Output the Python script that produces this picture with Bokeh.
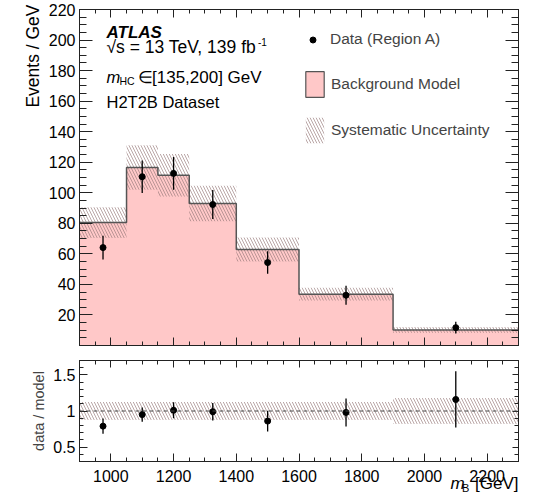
import numpy as np
from bokeh.plotting import figure
from bokeh.layouts import column
from bokeh.models import (FixedTicker, LinearAxis, Range1d, Label, Legend, LegendItem,
                          Span, CustomJSTickFormatter, Title)
from bokeh.core.properties import value
from bokeh.embed import file_html
from bokeh.resources import INLINE

FONT = "Liberation Sans"
PINK = "#ffc8c8"
OUTLINE = "#555555"
HATCH = "#957878"
FRAME = "#222222"

# ---------------- data ----------------
bin_edges = [900, 1050, 1150, 1250, 1400, 1600, 1900, 2300]
model_bkg = [80.5, 116.5, 111.5, 93.0, 62.8, 33.6, 10.2]
syst_rel = [0.125, 0.125, 0.125, 0.125, 0.125, 0.125, 0.18]
data_mass = [975, 1100, 1200, 1325, 1500, 1750, 2100]
data_events = [64.1, 110.5, 112.7, 92.3, 54.3, 32.9, 11.7]
data_err = [7.8, 10.6, 10.7, 9.5, 7.4, 6.2, 3.8]
ratio_vals = [0.79, 0.95, 1.01, 0.99, 0.86, 0.98, 1.16]
ratio_err = [0.105, 0.10, 0.11, 0.12, 0.145, 0.195, 0.39]
y_ticks_main = [20, 40, 60, 80, 100, 120, 140, 160, 180, 200, 220]
x_ticks = [1000, 1200, 1400, 1600, 1800, 2000, 2200]
ratio_ticks = [0.5, 1.0, 1.5]

edges = np.array(bin_edges, dtype=float)
left, right = edges[:-1], edges[1:]
model = np.array(model_bkg)
srel = np.array(syst_rel)
dm = np.array(data_events)
de = np.array(data_err)
rv = np.array(ratio_vals)
re_ = np.array(ratio_err)

x_minor = [float(v) for v in np.arange(900, 2301, 50)]
y_minor = [float(v) for v in np.arange(0, 221, 5)]
r_minor = [round(float(v), 2) for v in np.arange(0.3, 1.701, 0.1)]


def make_axis(ticks, minor, tin, tmin, labels=True, size="16px", standoff=4, fmt=None):
    ax = LinearAxis(ticker=FixedTicker(ticks=ticks, minor_ticks=minor),
                    major_tick_in=int(tin), major_tick_out=0,
                    minor_tick_in=int(tmin), minor_tick_out=0,
                    axis_line_color=FRAME, major_tick_line_color=FRAME,
                    minor_tick_line_color=FRAME, major_tick_line_width=1,
                    minor_tick_line_width=1)
    if labels:
        ax.major_label_text_font = FONT
        ax.major_label_text_font_size = size
        ax.major_label_text_color = "black"
        ax.major_label_standoff = standoff
        if fmt is not None:
            ax.formatter = fmt
    else:
        ax.formatter = CustomJSTickFormatter(code="return ''")
        ax.major_label_text_font_size = "0px"
        ax.major_label_standoff = 0
    return ax


def lab(p, x, y, text, size="16.5px", style="normal", align="left", angle=0):
    p.add_layout(Label(x=x, y=y, x_units="screen", y_units="screen", text=text,
                       text_font=FONT, text_font_size=size, text_font_style=style,
                       text_align=align, text_baseline="alphabetic", angle=angle,
                       text_color="black"))


# ---------------- main panel ----------------
p1 = figure(width=533, height=350, x_range=Range1d(900, 2300), y_range=Range1d(0, 220),
            output_backend="svg", toolbar_location=None,
            x_axis_type=None, y_axis_type=None,
            min_border_left=79, min_border_right=15, min_border_top=9, min_border_bottom=5)
p1.outline_line_color = FRAME
p1.outline_line_width = 1
p1.background_fill_color = "white"
p1.border_fill_color = "white"

p1.add_layout(make_axis(y_ticks_main, y_minor, 13, 7), "left")
p1.add_layout(Title(text="Events / GeV", align="right", text_font=FONT,
                    text_font_size="17.5px", text_font_style="normal", text_color="black",
                    offset=-5, standoff=6), "left")
p1.add_layout(make_axis(y_ticks_main, y_minor, 13, 7, labels=False), "right")
p1.add_layout(make_axis(x_ticks, x_minor, 8, 4, labels=False), "below")
p1.add_layout(make_axis(x_ticks, x_minor, 8, 4, labels=False), "above")

# background model: filled step area + outline
xs, ys = [], []
for i in range(len(model)):
    xs += [left[i], right[i]]
    ys += [model[i], model[i]]
p1.patch(xs + [right[-1], left[0]], ys + [0, 0], fill_color=PINK, line_alpha=0)
band = p1.quad(left=left, right=right, bottom=model * (1 - srel), top=model * (1 + srel),
               fill_alpha=0, line_alpha=0, hatch_pattern="\\", hatch_color=HATCH,
               hatch_alpha=0.65, hatch_scale=6, hatch_weight=1)
p1.line(xs, ys, line_color=OUTLINE, line_width=1.5)
p1.segment(x0=data_mass, y0=dm - de, x1=data_mass, y1=dm + de, line_color="black", line_width=1.3)
pts = p1.scatter(data_mass, dm, size=6, color="black")
# legend-only renderer for the background model box (not drawn on the plot)
bkg_leg = p1.quad(left=left, right=right, bottom=0, top=model, fill_color=PINK,
                  line_color=OUTLINE, line_width=1.2, visible=False)

leg1 = Legend(items=[LegendItem(label="Data (Region A)", renderers=[pts])],
              location=(226, 297), glyph_width=15, glyph_height=15, label_height=15,
              label_standoff=10, label_text_font=FONT, label_text_font_size="15.5px",
              padding=0, margin=0, spacing=0, border_line_alpha=0, background_fill_alpha=0)
leg2 = Legend(items=[LegendItem(label="Background Model", renderers=[bkg_leg]),
                     LegendItem(label="Systematic Uncertainty", renderers=[band])],
              location=(224, 199), glyph_width=23, glyph_height=32, label_height=32,
              label_standoff=5, label_text_font=FONT, label_text_font_size="15.5px",
              padding=0, margin=0, spacing=14, border_line_alpha=0, background_fill_alpha=0)
p1.add_layout(leg1)
p1.add_layout(leg2)

lab(p1, 27, 313, "ATLAS", size="17px", style="bold italic")
lab(p1, 27, 299, "\u221as = 13 TeV, 139 fb", size="17.5px")
lab(p1, 178.5, 303.5, "-1", size="10px")
lab(p1, 27, 268.5, "m", size="16.5px", style="italic")
lab(p1, 40, 265, "HC", size="10.5px")
lab(p1, 58.5, 268.5, "\u2208", size="16.5px")
lab(p1, 72.5, 268.5, "[135,200] GeV", size="17px")
lab(p1, 27, 243.5, "H2T2B Dataset", size="16.5px")

# ---------------- ratio panel ----------------
p2 = figure(width=533, height=112, x_range=p1.x_range, y_range=Range1d(0.3, 1.7),
            output_backend="svg", toolbar_location=None,
            x_axis_type=None, y_axis_type=None,
            min_border_left=79, min_border_right=15, min_border_top=10, min_border_bottom=1)
p2.outline_line_color = FRAME
p2.outline_line_width = 1
p2.background_fill_color = "white"
p2.border_fill_color = "white"

yax2 = make_axis(ratio_ticks, r_minor, 8, 4, standoff=4,
                 fmt=CustomJSTickFormatter(code="return String(tick)"))
yax2.axis_label = "data / model"
yax2.axis_label_text_font = FONT
yax2.axis_label_text_font_size = "14.5px"
yax2.axis_label_text_font_style = "normal"
yax2.axis_label_standoff = 3
p2.add_layout(yax2, "left")
p2.add_layout(make_axis(ratio_ticks, r_minor, 6, 4, labels=False), "right")
p2.add_layout(make_axis(x_ticks, x_minor, 8, 4, labels=False), "below")
p2.add_layout(make_axis(x_ticks, x_minor, 7, 4, labels=False), "above")

p2.quad(left=left, right=right, bottom=1 - srel, top=1 + srel, fill_alpha=0, line_alpha=0,
        hatch_pattern="\\", hatch_color=HATCH, hatch_alpha=0.65, hatch_scale=6, hatch_weight=1)
p2.add_layout(Span(location=1, dimension="width", line_color="#444444", line_dash="4 3",
                   line_width=1))
p2.segment(x0=data_mass, y0=rv - re_, x1=data_mass, y1=rv + re_, line_color="black", line_width=1.3)
p2.scatter(data_mass, rv, size=6, color="black")

# ---------------- x tick labels and x title strip ----------------
pX = figure(width=533, height=40, x_range=p1.x_range, y_range=Range1d(0, 40),
            output_backend="svg", toolbar_location=None,
            x_axis_type=None, y_axis_type=None,
            min_border_left=79, min_border_right=15, min_border_top=0, min_border_bottom=0)
pX.outline_line_color = None
pX.background_fill_color = "white"
pX.border_fill_color = "white"
pX.text(x=x_ticks, y=26.5, text=[str(t) for t in x_ticks], text_font=value(FONT),
        text_font_size="16px", text_align="center", text_baseline="alphabetic",
        text_color="black")
lab(pX, 439, 19, "[GeV]", size="17px", align="right")
lab(pX, 382.5, 14.5, "B", size="11px")
lab(pX, 371, 19, "m", size="17px", style="italic")

layout = column(p1, p2, pX)
open("out.html", "w").write(file_html(layout, INLINE))
